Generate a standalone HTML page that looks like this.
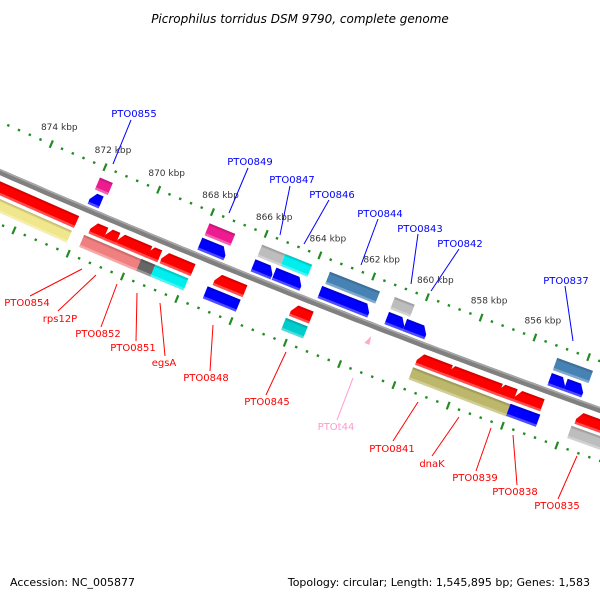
<!DOCTYPE html>
<html><head><meta charset="utf-8"><style>
html,body{margin:0;padding:0;background:#fff;}
svg{display:block;font-family:"DejaVu Sans","Liberation Sans",sans-serif;}
.lb{font-size:10px;}
</style></head><body>
<svg id="chart" width="600" height="600" viewBox="0 0 600 600" xmlns="http://www.w3.org/2000/svg">
<defs id="defs"></defs>
<text x="300" y="23" text-anchor="middle" font-size="12" font-style="italic" fill="#000">Picrophilus torridus DSM 9790, complete genome</text>
<g id="ticks"></g>
<g id="axis"></g>
<g id="feats"></g>
<g class="lb">
<g fill="#0000ff" stroke="#0000ff">
<line x1="131" y1="120" x2="113" y2="164" stroke-width="1"/><text x="134" y="117" text-anchor="middle" stroke="none">PTO0855</text>
<line x1="248" y1="168" x2="229" y2="213"/><text x="250" y="165" text-anchor="middle" stroke="none">PTO0849</text>
<line x1="290" y1="186" x2="280" y2="235"/><text x="292" y="183" text-anchor="middle" stroke="none">PTO0847</text>
<line x1="329" y1="200" x2="304" y2="244"/><text x="332" y="198" text-anchor="middle" stroke="none">PTO0846</text>
<line x1="378" y1="219" x2="361" y2="265"/><text x="380" y="217" text-anchor="middle" stroke="none">PTO0844</text>
<line x1="418" y1="234" x2="411" y2="284"/><text x="420" y="232" text-anchor="middle" stroke="none">PTO0843</text>
<line x1="459" y1="249" x2="431" y2="291"/><text x="460" y="247" text-anchor="middle" stroke="none">PTO0842</text>
<line x1="565" y1="286" x2="573" y2="341"/><text x="566" y="284" text-anchor="middle" stroke="none">PTO0837</text>
</g>
<g fill="#ff0000" stroke="#ff0000">
<line x1="82" y1="269" x2="30" y2="296"/><text x="27" y="306" text-anchor="middle" stroke="none">PTO0854</text>
<line x1="96" y1="275" x2="58" y2="311"/><text x="60" y="322" text-anchor="middle" stroke="none">rps12P</text>
<line x1="117" y1="284" x2="101" y2="327"/><text x="98" y="337" text-anchor="middle" stroke="none">PTO0852</text>
<line x1="137" y1="293" x2="136" y2="341"/><text x="133" y="351" text-anchor="middle" stroke="none">PTO0851</text>
<line x1="160" y1="303" x2="165" y2="356"/><text x="164" y="366" text-anchor="middle" stroke="none">egsA</text>
<line x1="213" y1="325" x2="210" y2="371"/><text x="206" y="381" text-anchor="middle" stroke="none">PTO0848</text>
<line x1="286" y1="352" x2="266" y2="395"/><text x="267" y="405" text-anchor="middle" stroke="none">PTO0845</text>
<line x1="418" y1="402" x2="393" y2="441"/><text x="392" y="452" text-anchor="middle" stroke="none">PTO0841</text>
<line x1="459" y1="417" x2="432" y2="456"/><text x="432" y="467" text-anchor="middle" stroke="none">dnaK</text>
<line x1="491" y1="428" x2="476" y2="471"/><text x="475" y="481" text-anchor="middle" stroke="none">PTO0839</text>
<line x1="513" y1="435" x2="517" y2="485"/><text x="515" y="495" text-anchor="middle" stroke="none">PTO0838</text>
<line x1="577" y1="456" x2="558" y2="499"/><text x="557" y="509" text-anchor="middle" stroke="none">PTO0835</text>
</g>
<g fill="#ff99cc" stroke="#ff99cc">
<line x1="353" y1="378" x2="337" y2="420"/><text x="336" y="430" text-anchor="middle" stroke="none">PTOt44</text>
</g>
</g>
<text x="10" y="586" font-size="11" fill="#000">Accession: NC_005877</text>
<text x="590" y="586" font-size="11" text-anchor="end" fill="#000">Topology: circular; Length: 1,545,895 bp; Genes: 1,583</text>
</svg>
<script>
const featStart=[872.06,867.99,866.02,865.24,863.54,861.06,860.39,855.02,854.43,
 872.02,867.95,865.99,865.13,863.47,861.06,855.02,
 876,871.64,871.09,870.64,869.53,869.01,867.05,864.23,859.57,858.42,856.57,855.94,853.68,
 877,871.75,869.64,869.12,867.19,864.3,859.6,856.0,853.75];
const featEnd=[871.65,867.02,865.28,864.21,861.69,860.39,859.58,854.43,853.76,
 871.54,866.99,865.13,864.13,861.61,860.32,853.69,
 872.16,871.09,870.64,869.46,869.09,867.86,865.94,863.49,858.34,856.49,855.94,854.94,852.4,
 872.19,869.6,869.12,867.9,865.97,863.49,855.97,854.9,852.5];
const featLane=[1,1,1,1,1,1,1,1,1, 0,0,0,0,0,0,0, 2,2,2,2,2,2,2,2,2,2,2,2,2, 3,3,3,3,3,3,3,3,3];
const featColor=['#0000ff','#0000ff','#0000ff','#0000ff','#0000ff','#0000ff','#0000ff','#0000ff','#0000ff',
 '#ee1a90','#ee1a90','#bdbdbd','#00eeee','#4682b4','#bdbdbd','#4682b4',
 '#ff0000','#ff0000','#ff0000','#ff0000','#ff0000','#ff0000','#ff0000','#ff0000','#ff0000','#ff0000','#ff0000','#ff0000','#ff0000',
 '#f0e68c','#f08080','#666666','#00eeee','#0000ff','#00cccc','#bdb76b','#0000ff','#bdbdbd'];
const featDir=[-1,1,1,1,1,1,1,1,1, 0,0,0,0,0,0,0, 0,-1,-1,-1,-1,-1,-1,-1,-1,-1,-1,-1,-1, 0,0,0,0,0,0,0,0,0];
const tickLabels=[874,872,870,868,866,864,862,860,858,856];
const trnaPos=[861.38];

const laneOffset=[-28,-12,15,31];
const NS='http://www.w3.org/2000/svg';
function pos(p,d){
  const ax=33+(874-p)*27;
  const ay=172+0.4367*ax-6.67e-5*ax*ax;
  const th=Math.atan(0.4367-1.334e-4*ax);
  return [ax-d*Math.sin(th), ay+d*Math.cos(th), th];
}
function mk(tag,attrs,parent){const e=document.createElementNS(NS,tag);for(const k in attrs)e.setAttribute(k,attrs[k]);parent.appendChild(e);return e;}
function shade(hex,f){const n=parseInt(hex.slice(1),16);let r=n>>16,g=(n>>8)&255,b=n&255;
 if(f>=0){r=Math.round(r+(255-r)*f);g=Math.round(g+(255-g)*f);b=Math.round(b+(255-b)*f);}
 else{r=Math.round(r*(1+f));g=Math.round(g*(1+f));b=Math.round(b*(1+f));}
 return `rgb(${r},${g},${b})`;}
const defs=document.getElementById('defs');
const gradIds={};
function grad(c){if(gradIds[c])return gradIds[c];const id='g'+Object.keys(gradIds).length;
 const g=mk('linearGradient',{id:id,x1:0,y1:0,x2:0,y2:1},defs);
 mk('stop',{offset:'0',['stop-color']:shade(c,-0.2)},g);
 mk('stop',{offset:'0.15',['stop-color']:shade(c,-0.1)},g);
 mk('stop',{offset:'0.2',['stop-color']:c},g);
 mk('stop',{offset:'0.8',['stop-color']:c},g);
 mk('stop',{offset:'0.82',['stop-color']:shade(c,0.3)},g);
 mk('stop',{offset:'1',['stop-color']:shade(c,0.3)},g);
 gradIds[c]=id;return id;}

// axis
const axisG=document.getElementById('axis');
let pts=[];for(let p=877;p>=850;p-=0.25){const q=pos(p,0);pts.push(q[0].toFixed(1)+','+q[1].toFixed(1));}
const ax1=mk('polyline',{points:pts.join(' '),fill:'none',stroke:'#808080','stroke-width':6},axisG);


let pts2=[];for(let p=877;p>=850;p-=0.25){const q=pos(p,-2);pts2.push(q[0].toFixed(1)+','+q[1].toFixed(1));}
mk('polyline',{points:pts2.join(' '),fill:'none',stroke:'#a8a8a8','stroke-width':1.5},axisG);

// ticks
const tg=document.getElementById('ticks');
for(let i=0;i<=70;i++){
  const p=876-i*0.4; const r=Math.round(p); const major=Math.abs(p-r)<0.01 && r%2===0;
  [-46,48].forEach(d=>{
    const q=pos(p,d); const deg=q[2]*180/Math.PI;
    const t=mk('rect',major?{x:-1.1,y:-4,width:2.2,height:8}:{x:-1.2,y:-1.2,width:2.4,height:2.4},tg);
    t.setAttribute('fill','#228b22');
    t.setAttribute('transform',`translate(${q[0].toFixed(1)},${q[1].toFixed(1)}) rotate(${deg.toFixed(1)})`);
    
    
  });
}
tickLabels.forEach(k=>{
  const q=pos(k,-46);
  const t=mk('text',{x:(q[0]+8).toFixed(1),y:(q[1]-14).toFixed(1),'text-anchor':'middle','font-size':'9',fill:'#333'},tg);
  t.textContent=k+' kbp';
  
  
});

// features
const fg=document.getElementById('feats');
const H=13;
for(let i=0;i<featStart.length;i++){
  const d=laneOffset[featLane[i]];
  const a=pos(featStart[i],d), b=pos(featEnd[i],d);
  const L=Math.hypot(b[0]-a[0],b[1]-a[1]);
  const h=H/2, tip=Math.min(5,L/2);
  let poly;
  if(featDir[i]===1) poly=`0,${-h} ${L-tip},${-h} ${L},${h*0.2} ${L},${h} 0,${h}`;
  else if(featDir[i]===-1) poly=`${tip},${-h} ${L},${-h} ${L},${h} 0,${h} 0,${h*0.2}`;
  else poly=`0,${-h} ${L},${-h} ${L},${h} 0,${h}`;
  const deg=a[2]*180/Math.PI;
  const el=mk('polygon',{points:poly,fill:`url(#${grad(featColor[i])})`,transform:`translate(${a[0].toFixed(1)},${a[1].toFixed(1)}) rotate(${deg.toFixed(2)})`},fg);
  
  
}
trnaPos.forEach(p=>{
  const q=pos(p,15);
  const t=mk('polygon',{points:`${q[0]-4},${q[1]+3} ${q[0]+3},${q[1]-4} ${q[0]+1},${q[1]+5}`,fill:'#ffaacc'},fg);
  
  
});
</script>
</body></html>
